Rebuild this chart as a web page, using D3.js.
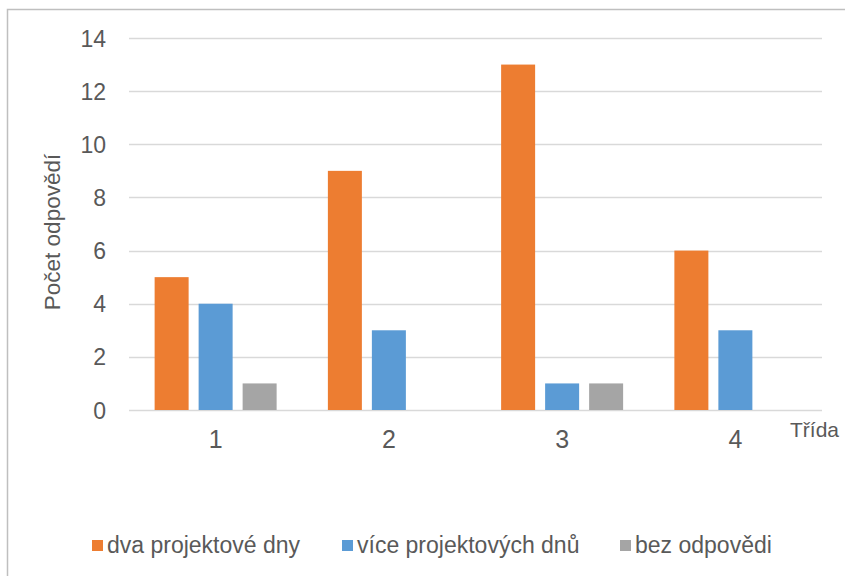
<!DOCTYPE html>
<html>
<head>
<meta charset="utf-8">
<script src="https://cdn.jsdelivr.net/npm/d3@7"></script>
<style>
  html, body { margin: 0; padding: 0; background: #fff; }
  svg { display: block; font-family: "Liberation Sans", Arial, sans-serif; }
</style>
</head>
<body>
<svg id="chart" width="845" height="576"></svg>
<script>
const categories = ["1", "2", "3", "4"];
const seriesNames = ["dva projektové dny", "více projektových dnů", "bez odpovědi"];
const dvaProjektoveDny = [5, 9, 13, 6];
const viceProjektovychDnu = [4, 3, 1, 3];
const bezOdpovedi = [1, 0, 1, 0];
const seriesValues = [dvaProjektoveDny, viceProjektovychDnu, bezOdpovedi];
const colors = ["#ED7D31", "#5B9BD5", "#A5A5A5"];
const yTicks = [0, 2, 4, 6, 8, 10, 12, 14];
const yTitle = "Počet odpovědí";
const xTitle = "Třída";

const svg = d3.select("#chart");
const textColor = "#595959";

// outer border (top & left visible)
svg.append("rect")
  .attr("x", 7.5).attr("y", 9.5)
  .attr("width", 900).attr("height", 700)
  .attr("fill", "none").attr("stroke", "#bfbfbf").attr("stroke-width", 1.5);

const plot = { left: 129, right: 822, top: 38, bottom: 410 };

const x0 = d3.scaleBand().domain(categories).range([plot.left, plot.right]).padding(0);
const groupW = 122;
const x1 = d3.scaleBand().domain(d3.range(seriesNames.length))
  .range([0, groupW]).paddingInner(0.2273).paddingOuter(0);
const y = d3.scaleLinear().domain([0, 14]).range([plot.bottom, plot.top]);

// gridlines
svg.append("g").selectAll("line").data(yTicks).join("line")
  .attr("x1", plot.left).attr("x2", plot.right)
  .attr("y1", d => Math.round(y(d)) + 0.5).attr("y2", d => Math.round(y(d)) + 0.5)
  .attr("stroke", "#d9d9d9").attr("stroke-width", 1.5);

// y axis labels
const yAxis = d3.axisLeft(y).tickValues(yTicks).tickSize(0).tickPadding(0);
const gy = svg.append("g").attr("transform", `translate(106,0)`).call(yAxis);
gy.select(".domain").remove();
gy.selectAll("text")
  .attr("fill", textColor).style("font-size", "23px")
  .attr("dy", "0.35em");

// bars
const groups = svg.append("g").selectAll("g").data(categories).join("g")
  .attr("transform", c => `translate(${x0(c) + (x0.bandwidth() - groupW) / 2},0)`);
groups.selectAll("rect")
  .data((c, ci) => seriesValues.map((vals, si) => ({ si, v: vals[ci] })))
  .join("rect")
  .attr("x", d => x1(d.si))
  .attr("width", x1.bandwidth())
  .attr("y", d => y(d.v))
  .attr("height", d => y(0) - y(d.v))
  .attr("fill", d => colors[d.si]);

// x axis labels
const xAxis = d3.axisBottom(x0).tickSize(0).tickPadding(0);
const gx = svg.append("g").attr("transform", `translate(0,${plot.bottom})`).call(xAxis);
gx.select(".domain").remove();
gx.selectAll("text")
  .attr("fill", textColor).style("font-size", "25px")
  .attr("y", 38).attr("dy", 0);

// x title
svg.append("text").attr("x", 790).attr("y", 437)
  .attr("fill", textColor).style("font-size", "21px").text(xTitle);

// y title
svg.append("text")
  .attr("transform", "translate(60,232) rotate(-90)")
  .attr("text-anchor", "middle")
  .attr("fill", textColor).style("font-size", "22.5px").text(yTitle);

// legend
const legendX = [92, 342, 620];
const lg = svg.append("g").selectAll("g").data(seriesNames).join("g")
  .attr("transform", (d, i) => `translate(${legendX[i]},0)`);
lg.append("rect").attr("x", 0).attr("y", 540).attr("width", 11).attr("height", 11)
  .attr("fill", (d, i) => colors[i]);
lg.append("text").attr("x", 15).attr("y", 553)
  .attr("fill", textColor).style("font-size", "23px").text(d => d);
</script>
</body>
</html>
